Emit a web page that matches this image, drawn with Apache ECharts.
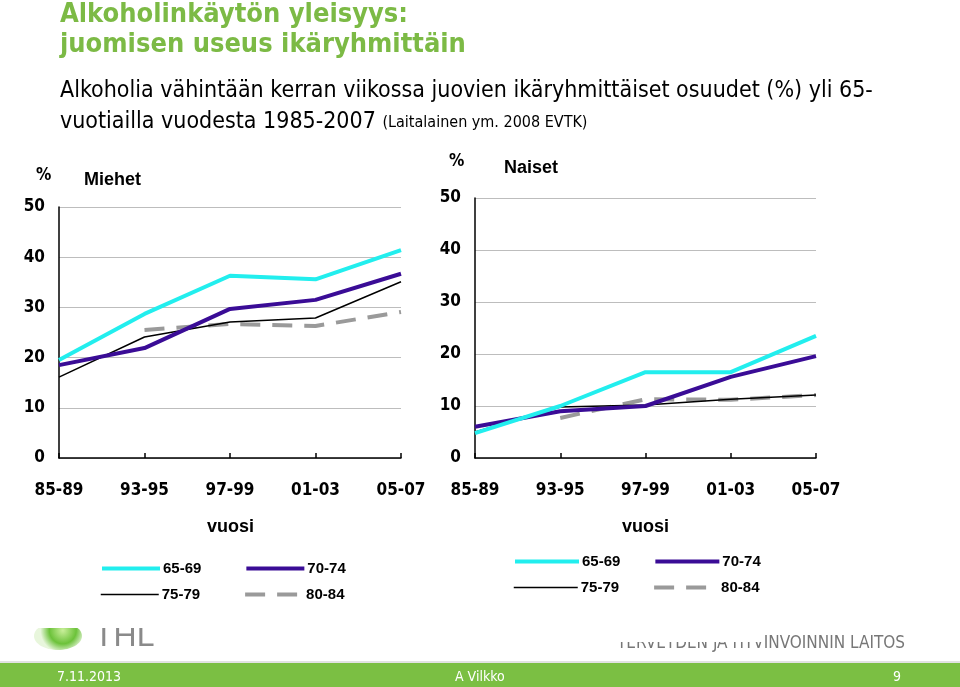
<!DOCTYPE html>
<html>
<head>
<meta charset="utf-8">
<script src="https://cdn.jsdelivr.net/npm/echarts@6/dist/echarts.min.js"></script>
<style>
html,body{margin:0;padding:0;background:#fff;}
#c{width:960px;height:687px;}
</style>
</head>
<body>
<div id="c"></div>
<script>
var categories = ['85-89', '93-95', '97-99', '01-03', '05-07'];
var seriesNames = ['65-69', '70-74', '75-79', '80-84'];
var yTicks = [0, 10, 20, 30, 40, 50];

// Miehet (men)
var men6569 = [19.5, 28.7, 36.3, 35.6, 41.4];
var men7074 = [18.5, 21.9, 29.7, 31.5, 36.7];
var men7579 = [16.1, 24.1, 27.1, 27.9, 35.1];
var men8084 = [null, 25.5, 26.7, 26.3, 29.1];

// Naiset (women)
var women6569 = [4.8, 10.0, 16.5, 16.5, 23.5];
var women7074 = [6.0, 9.0, 10.0, 15.6, 19.6];
var women7579 = [5.0, 9.8, 10.2, 11.3, 12.1];
var women8084 = [null, 7.7, 11.3, 11.2, 12.1];

var FONT = '"DejaVu Sans Condensed", "Liberation Sans", Arial, sans-serif';
var FONT2 = '"Liberation Sans", Arial, sans-serif';

var styles = [
  {color: '#22eeee', width: 4, type: 'solid'},
  {color: '#3a0c96', width: 4, type: 'solid'},
  {color: '#000000', width: 1.5, type: 'solid'},
  {color: '#9a9a9a', width: 4, type: [20, 12]}
];

function mkX(idx) {
  return {
    type: 'category', gridIndex: idx, data: categories, boundaryGap: false,
    axisLine: {show: true, lineStyle: {color: '#000', width: 1.5}},
    axisTick: {show: true, inside: true, length: 5, lineStyle: {color: '#000', width: 1.5}},
    axisLabel: {color: '#000', fontFamily: FONT, fontWeight: 'bold', fontSize: 17, margin: 24},
    splitLine: {show: false}
  };
}
function mkY(idx) {
  return {
    type: 'value', gridIndex: idx, min: yTicks[0], max: yTicks[yTicks.length - 1], interval: 10,
    axisLine: {show: true, lineStyle: {color: '#000', width: 1.5}},
    axisTick: {show: false},
    axisLabel: {color: '#000', fontFamily: FONT, fontWeight: 'bold', fontSize: 17, margin: 14},
    splitLine: {show: true, lineStyle: {color: '#bdbdbd', width: 1}}
  };
}
function mkSeries(idx, arrs) {
  return arrs.map(function (d, i) {
    return {
      name: seriesNames[i], type: 'line', xAxisIndex: idx, yAxisIndex: idx,
      data: d, symbol: 'none', connectNulls: false, z: 10 - i,
      lineStyle: {color: styles[i].color, width: styles[i].width, type: styles[i].type},
      itemStyle: {color: styles[i].color}
    };
  });
}
function mkLegend(left, top, names, iw, gap) {
  return {
    left: left, top: top, orient: 'horizontal', data: names, padding: 0,
    itemWidth: iw, itemHeight: 14, itemGap: gap, selectedMode: false,
    lineStyle: {width: 'inherit'},
    itemStyle: {opacity: 0},
    textStyle: {color: '#000', fontFamily: FONT2, fontWeight: 'bold', fontSize: 15, padding: [0, 0, 0, -2]}
  };
}
function txt(text, left, top, size, extra) {
  var t = {text: text, left: left, top: top, padding: 0,
    textStyle: {color: '#000', fontFamily: FONT2, fontWeight: 'bold', fontSize: size}};
  if (extra) { for (var k in extra) t.textStyle[k] = extra[k]; }
  return t;
}

var chart = echarts.init(document.getElementById('c'), null, {renderer: 'canvas'});
chart.setOption({
  animation: false,
  backgroundColor: '#fff',
  grid: [
    {left: 59, right: 559, top: 207, bottom: 229},
    {left: 475, right: 144, top: 198, bottom: 229}
  ],
  xAxis: [mkX(0), mkX(1)],
  yAxis: [mkY(0), mkY(1)],
  legend: [
    mkLegend(100, 561, ['65-69', '70-74'], 58, 43),
    mkLegend(100, 587, ['75-79', '80-84'], 58, 43),
    mkLegend(513, 554, ['65-69', '70-74'], 64, 33),
    mkLegend(513, 580, ['75-79', '80-84'], 64, 33)
  ],
  title: [
    {text: 'Alkoholinkäytön yleisyys:\njuomisen useus ikäryhmittäin', left: 60, top: 0, padding: 0,
      textStyle: {color: '#7cba45', fontFamily: FONT, fontWeight: 'bold', fontSize: 27, lineHeight: 30}},
    {text: 'Alkoholia vähintään kerran viikossa juovien ikäryhmittäiset osuudet (%) yli 65-\nvuotiailla vuodesta 1985-2007 {s|(Laitalainen ym. 2008 EVTK)}', left: 60, top: 76, padding: 0,
      textStyle: {color: '#000', fontFamily: FONT, fontWeight: 'normal', fontSize: 23, lineHeight: 31,
        rich: {s: {fontFamily: FONT, fontSize: 16, color: '#000', lineHeight: 31}}}},
    txt('%', 36, 167, 17, {fontFamily: FONT}),
    txt('Miehet', 84, 171, 18),
    txt('%', 449, 153, 17, {fontFamily: FONT}),
    txt('Naiset', 504, 159, 18),
    txt('vuosi', 207, 518, 18),
    txt('vuosi', 622, 518, 18)
  ],
  graphic: [
    {type: 'ellipse', shape: {cx: 58, cy: 636, rx: 24, ry: 14},
      style: {fill: new echarts.graphic.RadialGradient(0.6, 0.3, 0.8, [{offset: 0, color: '#c9ef9a'}, {offset: 0.6, color: '#6cc23a'}, {offset: 1, color: '#e8f6dc'}])}},
    {type: 'text', left: 94, top: 621, style: {text: 'THL', fill: '#8a8a8a', font: '32px "Liberation Sans", Arial, sans-serif'}},
    {type: 'text', left: 617, top: 635, style: {text: 'TERVEYDEN JA HYVINVOINNIN LAITOS', fill: '#777', font: '17px "DejaVu Sans Condensed", sans-serif'}},
    {type: 'rect', shape: {x: 0, y: 612, width: 960, height: 16}, style: {fill: '#fff'}},
    {type: 'rect', shape: {x: 600, y: 612, width: 165, height: 30}, style: {fill: '#fff'}},
    {type: 'rect', shape: {x: 0, y: 661, width: 960, height: 2}, style: {fill: '#e2e2e2'}},
    {type: 'rect', shape: {x: 0, y: 663, width: 960, height: 24}, style: {fill: '#7bbf43'}},
    {type: 'text', left: 57, top: 670, style: {text: '7.11.2013', fill: '#fff', font: '14px "DejaVu Sans Condensed", sans-serif'}},
    {type: 'text', left: 455, top: 670, style: {text: 'A Vilkko', fill: '#fff', font: '14px "DejaVu Sans Condensed", sans-serif'}},
    {type: 'text', left: 893, top: 670, style: {text: '9', fill: '#fff', font: '14px "DejaVu Sans Condensed", sans-serif'}}
  ],
  series: mkSeries(0, [men6569, men7074, men7579, men8084]).concat(
          mkSeries(1, [women6569, women7074, women7579, women8084]))
});
</script>
</body>
</html>
